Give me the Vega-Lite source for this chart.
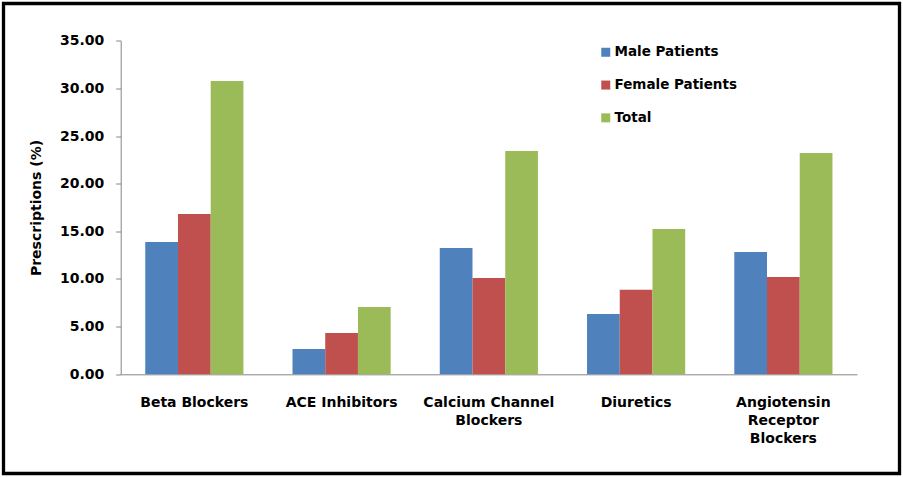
{
  "$schema": "https://vega.github.io/schema/vega-lite/v6.json",
  "width": 896,
  "height": 470,
  "autosize": {"type": "none"},
  "padding": {"left": 3.5, "top": 3.5, "right": 3.5, "bottom": 3.5},
  "background": "white",
  "config": {
    "view": {"stroke": "black", "strokeWidth": 3.3, "fill": "white"},
    "font": "DejaVu Sans",
    "axis": {"labelFont": "DejaVu Sans", "titleFont": "DejaVu Sans", "labelFontWeight": "bold", "titleFontWeight": "bold", "labelFontSize": 14, "titleFontSize": 14, "labelColor": "black", "titleColor": "black", "domainColor": "#868686", "tickColor": "#868686", "grid": false}
  },
  "data": {
    "values": [
      {"drug": "Beta Blockers", "group": "Male Patients", "value": 13.88},
      {"drug": "Beta Blockers", "group": "Female Patients", "value": 16.82},
      {"drug": "Beta Blockers", "group": "Total", "value": 30.77},
      {"drug": "ACE Inhibitors", "group": "Male Patients", "value": 2.65},
      {"drug": "ACE Inhibitors", "group": "Female Patients", "value": 4.33},
      {"drug": "ACE Inhibitors", "group": "Total", "value": 7.06},
      {"drug": "Calcium Channel|Blockers", "group": "Male Patients", "value": 13.25},
      {"drug": "Calcium Channel|Blockers", "group": "Female Patients", "value": 10.1},
      {"drug": "Calcium Channel|Blockers", "group": "Total", "value": 23.43},
      {"drug": "Diuretics", "group": "Male Patients", "value": 6.33},
      {"drug": "Diuretics", "group": "Female Patients", "value": 8.88},
      {"drug": "Diuretics", "group": "Total", "value": 15.25},
      {"drug": "Angiotensin|Receptor|Blockers", "group": "Male Patients", "value": 12.83},
      {"drug": "Angiotensin|Receptor|Blockers", "group": "Female Patients", "value": 10.21},
      {"drug": "Angiotensin|Receptor|Blockers", "group": "Total", "value": 23.22}
    ]
  },
  "mark": {"type": "bar"},
  "encoding": {
    "x": {
      "field": "drug",
      "type": "nominal",
      "sort": null,
      "scale": {"range": [117.2, 853.5], "paddingInner": 0.3333, "paddingOuter": 0.16667},
      "axis": {
        "title": null,
        "orient": "bottom",
        "offset": -99.2,
        "labelAngle": 0,
        "ticks": false,
        "labelPadding": 21,
        "labelLineHeight": 18.3,
        "labelExpr": "split(datum.label, '|')",
        "labelLimit": 200
      }
    },
    "xOffset": {"field": "group", "type": "nominal", "sort": ["Male Patients", "Female Patients", "Total"], "scale": {"paddingInner": 0, "paddingOuter": 0}},
    "y": {
      "field": "value",
      "type": "quantitative",
      "scale": {"domain": [0, 35], "nice": false, "range": [370.8, 37.2]},
      "axis": {
        "title": "Prescriptions (%)",
        "orient": "left",
        "offset": -117.2,
        "values": [0, 5, 10, 15, 20, 25, 30, 35],
        "format": ".2f",
        "tickSize": 5,
        "labelPadding": 12,
        "titlePadding": 16
      }
    },
    "color": {
      "field": "group",
      "type": "nominal",
      "sort": ["Male Patients", "Female Patients", "Total"],
      "scale": {"domain": ["Male Patients", "Female Patients", "Total"], "range": ["#4F81BD", "#C0504D", "#9BBB59"]},
      "legend": {
        "title": null,
        "orient": "none",
        "legendX": 595.5,
        "legendY": 42,
        "padding": 0,
        "symbolType": "square",
        "symbolSize": 81,
        "symbolStrokeWidth": 0,
        "labelFont": "DejaVu Sans",
        "labelFontWeight": "bold",
        "labelFontSize": 13.5,
        "labelColor": "black",
        "labelOffset": 2,
        "rowPadding": 17.8,
        "labelLimit": 300
      }
    }
  }
}
